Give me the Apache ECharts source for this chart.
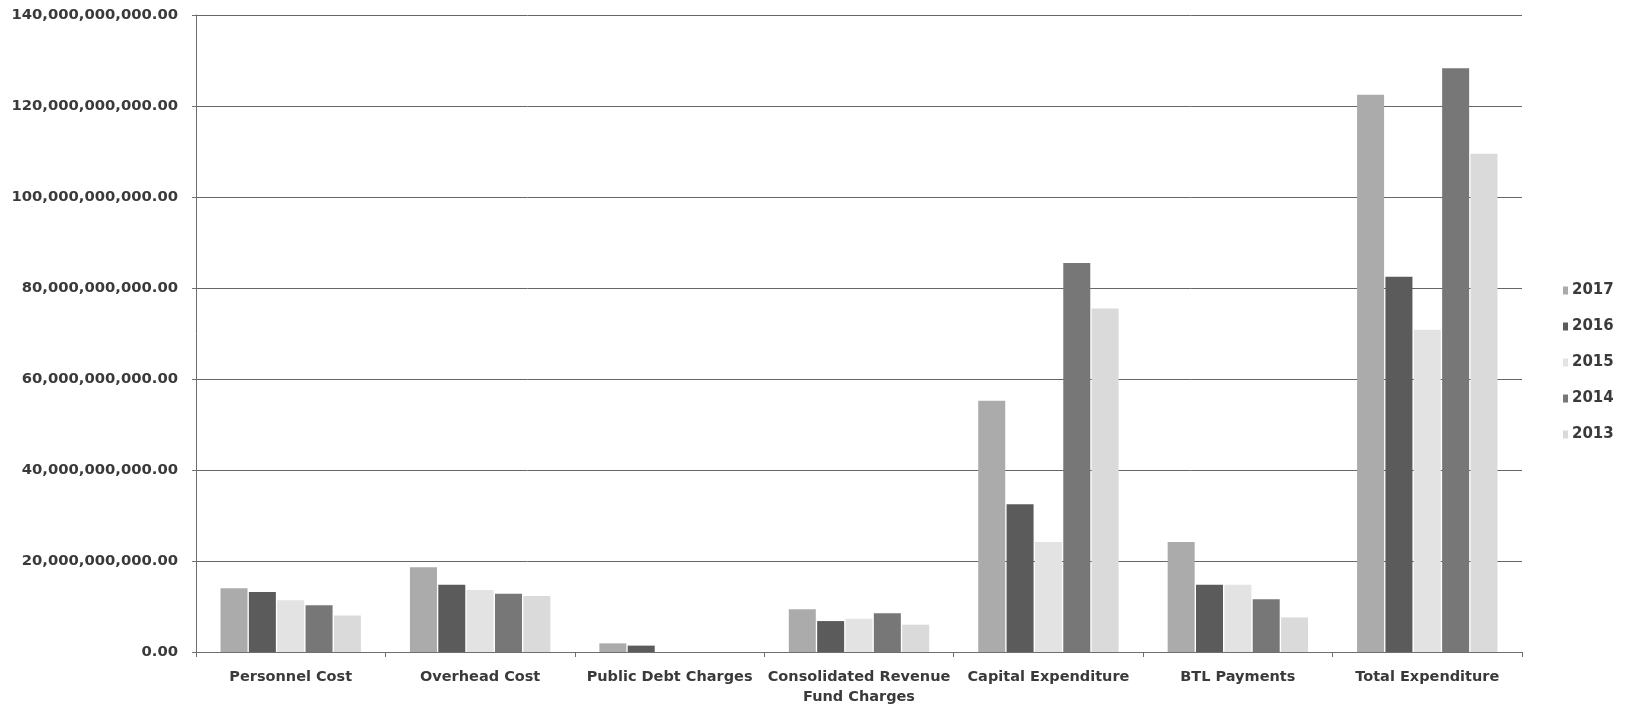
<!DOCTYPE html>
<html>
<head>
<meta charset="utf-8">
<script src="https://cdn.jsdelivr.net/npm/echarts@6/dist/echarts.min.js"></script>
<style>
  html, body { margin: 0; padding: 0; background: #ffffff; }
  #chart { width: 1626px; height: 713px; }
</style>
</head>
<body>
<div id="chart"></div>
<script>
// Expenditure by head, in billions (converted to full units below)
const categories = [
  'Personnel Cost',
  'Overhead Cost',
  'Public Debt Charges',
  'Consolidated Revenue\nFund Charges',
  'Capital Expenditure',
  'BTL Payments',
  'Total Expenditure'
];
const years = ['2017', '2016', '2015', '2014', '2013'];

const y2017 = [14.0, 18.6, 1.9, 9.4, 55.2, 24.2, 122.5];
const y2016 = [13.2, 14.8, 1.4, 6.8, 32.5, 14.8, 82.5];
const y2015 = [11.4, 13.6, 0, 7.3, 24.2, 14.8, 70.8];
const y2014 = [10.3, 12.8, 0, 8.5, 85.5, 11.6, 128.3];
const y2013 = [8.0, 12.3, 0, 6.0, 75.5, 7.6, 109.5];

const BILLION = 1e9;
const seriesValues = [y2017, y2016, y2015, y2014, y2013];
const seriesColors = ['#ababab', '#5b5b5b', '#e3e3e3', '#777777', '#dadada'];

const FONT = 'DejaVu Sans';
const TEXT = '#3a3a3a';

function fmt(v) {
  return v.toLocaleString('en-US', { minimumFractionDigits: 2, maximumFractionDigits: 2 });
}

const chart = echarts.init(document.getElementById('chart'), null, { renderer: 'canvas' });

chart.setOption({
  backgroundColor: '#ffffff',
  animation: false,
  grid: { left: 196, right: 104, top: 15, bottom: 61, containLabel: false },
  legend: {
    orient: 'vertical',
    left: 1558,
    top: 278,
    itemWidth: 5,
    itemHeight: 8,
    itemGap: 21,
    icon: 'rect',
    data: years,
    textStyle: { fontFamily: FONT, fontWeight: 'bold', fontSize: 15, color: TEXT, padding: [0, 0, 0, -1] }
  },
  xAxis: {
    type: 'category',
    data: categories,
    axisLine: { show: true, lineStyle: { color: '#6e6e6e', width: 1 } },
    axisTick: { show: true, alignWithLabel: false, length: 5, lineStyle: { color: '#6e6e6e' } },
    axisLabel: {
      interval: 0,
      margin: 15,
      fontFamily: FONT, fontWeight: 'bold', fontSize: 14.5, color: TEXT,
      lineHeight: 20
    }
  },
  yAxis: {
    type: 'value',
    min: 0,
    max: 140 * BILLION,
    interval: 20 * BILLION,
    axisLine: { show: true, lineStyle: { color: '#6e6e6e', width: 1 } },
    axisTick: { show: true, length: 4, lineStyle: { color: '#6e6e6e' } },
    splitLine: { show: true, lineStyle: { color: '#666666', width: 1 } },
    axisLabel: {
      margin: 18,
      fontFamily: FONT, fontWeight: 'bold', fontSize: 14.8, color: TEXT,
      formatter: fmt
    }
  },
  series: years.map((name, i) => ({
    name: name,
    type: 'bar',
    barWidth: 27,
    barGap: '5%',
    itemStyle: { color: seriesColors[i] },
    data: seriesValues[i].map(v => v * BILLION)
  }))
});
</script>
</body>
</html>
